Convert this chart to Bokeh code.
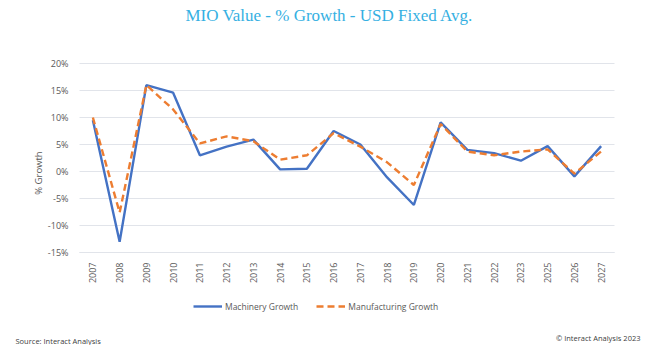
import numpy as np
from bokeh.plotting import figure
from bokeh.models import Range1d, PrintfTickFormatter, Legend, LegendItem, Label, FixedTicker
from bokeh.embed import file_html
from bokeh.resources import INLINE

years = ["2007", "2008", "2009", "2010", "2011", "2012", "2013", "2014", "2015", "2016",
         "2017", "2018", "2019", "2020", "2021", "2022", "2023", "2025", "2026", "2027"]
machinery = [9.5, -13.0, 16.0, 14.6, 3.0, 4.6, 5.9, 0.4, 0.5, 7.5,
             5.0, -1.1, -6.2, 9.1, 4.0, 3.4, 2.0, 4.7, -0.9, 4.7]
manufacturing = [10.0, -7.6, 16.0, 11.5, 5.2, 6.5, 5.6, 2.2, 3.0, 7.1,
                 4.6, 1.7, -2.5, 8.8, 3.7, 3.0, 3.7, 4.1, -0.4, 3.7]
y_ticks = [-15, -10, -5, 0, 5, 10, 15, 20]

title_text = "MIO Value - % Growth - USD Fixed Avg."
source_text = "Source: Interact Analysis"
copyright_text = "\u00a9 Interact Analysis 2023"

FONT = "Open Sans"
GRAY = "#595959"
GRID = "#E1E4EA"

# ---- layout constants (pixels) ----
W, H = 650, 345
PL, PR, PT, PB = 79, 614, 63, 252          # data-area box on the page
n = len(years)
y_lo, y_hi = y_ticks[0], y_ticks[-1]
ux = (PR - PL) / n                          # px per category
uy = (PB - PT) / (y_hi - y_lo)              # px per percent

x_range = Range1d(-PL / ux, n + (W - PR) / ux)
y_range = Range1d(y_lo - (H - PB) / uy, y_hi + PT / uy)

xpos = np.arange(n) + 0.5

p = figure(width=W, height=H, x_range=x_range, y_range=y_range,
           output_backend="svg", toolbar_location=None, min_border=0)
p.title.text = ""
p.title.visible = False
p.outline_line_color = None
p.xgrid.visible = False
p.ygrid.visible = False

# horizontal gridlines limited to the data area
p.segment(x0=[0] * len(y_ticks), x1=[n] * len(y_ticks), y0=y_ticks, y1=y_ticks,
          line_color=GRID, line_width=1)

# y axis
ya = p.yaxis[0]
ya.fixed_location = 0
ya.ticker = FixedTicker(ticks=y_ticks)
ya.formatter = PrintfTickFormatter(format="%d%%")
ya.axis_line_color = None
ya.major_tick_line_color = None
ya.minor_tick_line_color = None
ya.major_label_text_font = FONT
ya.major_label_text_font_size = "9px"
ya.major_label_text_color = GRAY
ya.major_label_standoff = 5
ya.axis_label = "% Growth"
ya.axis_label_text_font = FONT
ya.axis_label_text_font_style = "normal"
ya.axis_label_text_font_size = "9.5px"
ya.axis_label_text_color = GRAY
ya.axis_label_standoff = 0

# x axis (categorical labels at category centres)
xa = p.xaxis[0]
xa.fixed_location = y_lo
xa.bounds = (0, n)
xa.ticker = FixedTicker(ticks=list(xpos))
xa.major_label_overrides = {float(x): y for x, y in zip(xpos, years)}
xa.axis_line_color = GRID
xa.major_tick_line_color = None
xa.minor_tick_line_color = None
xa.major_label_orientation = np.pi / 2
xa.major_label_text_font = FONT
xa.major_label_text_font_size = "9px"
xa.major_label_text_color = GRAY
xa.major_label_standoff = 4

r1 = p.line(xpos, machinery, line_color="#4472C4", line_width=2.4)
r2 = p.line(xpos, manufacturing, line_color="#ED7D31", line_width=2.4, line_dash="7 4")

legend = Legend(items=[LegendItem(label="Machinery Growth", renderers=[r1]),
                       LegendItem(label="Manufacturing Growth", renderers=[r2])],
                location=(193, H - 316), orientation="horizontal",
                padding=0, margin=0, spacing=18, label_standoff=3,
                glyph_width=29, glyph_height=20, label_height=20,
                border_line_color=None, background_fill_alpha=0,
                label_text_font=FONT, label_text_font_size="8.5px",
                label_text_color=GRAY)
p.add_layout(legend, "center")

p.add_layout(Label(x=329, y=H - 15, x_units="screen", y_units="screen", text=title_text,
                   text_align="center", text_baseline="middle",
                   text_font="Liberation Serif", text_font_size="17px", text_color="#35B0E2"))
p.add_layout(Label(x=15, y=H - 340, x_units="screen", y_units="screen", text=source_text,
                   text_align="left", text_baseline="middle",
                   text_font=FONT, text_font_size="7.5px", text_color="#404040"))
p.add_layout(Label(x=640, y=H - 337, x_units="screen", y_units="screen", text=copyright_text,
                   text_align="right", text_baseline="middle",
                   text_font=FONT, text_font_size="7.5px", text_color="#404040"))

open("out.html", "w").write(file_html(p, INLINE))
